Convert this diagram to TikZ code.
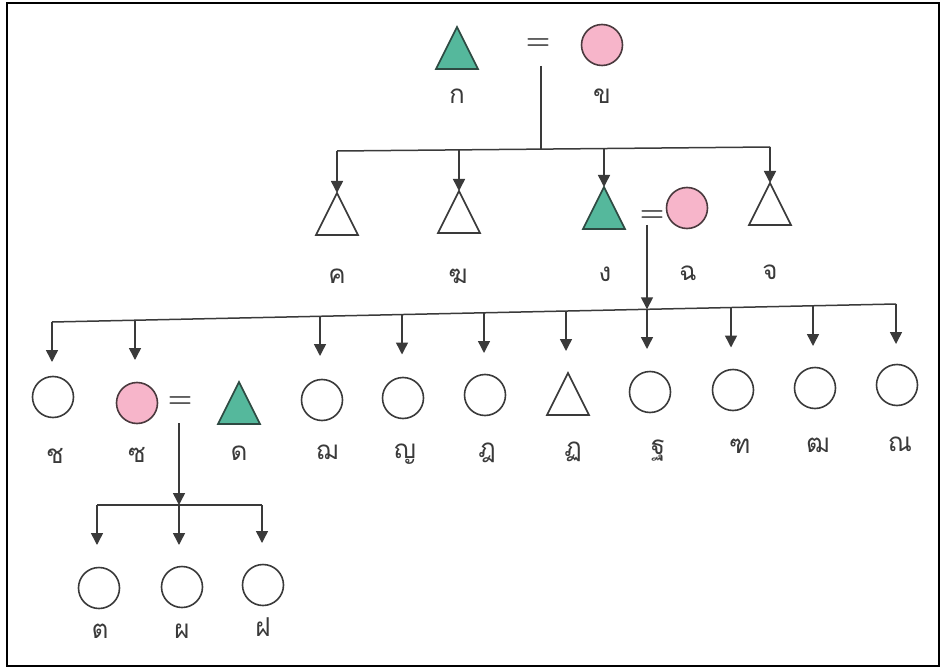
\documentclass[tikz,border=0pt]{standalone}
\usepackage{fontspec}
\newfontfamily\thaifont[Script=Thai]{Loma}
\usetikzlibrary{arrows.meta}
\definecolor{lineg}{HTML}{3A3A3A}
\definecolor{kingreen}{HTML}{55B89C}
\definecolor{kinpink}{HTML}{F7B5CA}
\definecolor{pinkedge}{HTML}{4A3A3E}
\definecolor{greenedge}{HTML}{2E4A42}
\newcommand\kintri[4]{%
  \coordinate (#1) at (#2,#3);
  \draw[#4] (#2,#3) -- ++(21,42) -- ++(-42,0) -- cycle;}
\begin{document}
\begin{tikzpicture}[x=1pt,y=-1pt,
  conn/.style={draw=lineg,line width=1.5pt},
  arr/.style={conn,-{Triangle[width=12pt,length=12pt]}},
  circ/.style={circle,draw=lineg,line width=1.6pt,minimum size=41pt,inner sep=0pt},
  female/.style={circ,fill=kinpink,draw=pinkedge},
  maleopen/.style={draw=lineg,line width=1.6pt,line join=miter},
  malefill/.style={draw=greenedge,fill=kingreen,line width=1.6pt,line join=miter},
  lab/.style={font=\thaifont\fontsize{26}{30}\selectfont,anchor=base,inner sep=0pt,text=lineg},
  eqs/.style={font=\bfseries\fontsize{28}{28}\selectfont,inner sep=0pt,text=lineg},
]
\useasboundingbox (0,0) rectangle (941,668);
\fill[white] (0,0) rectangle (941,668);
\draw[line width=2pt,black] (7,3) rectangle (939,666);

% generation 1
\kintri{ka}{457}{27}{malefill}
\node[female] (kho) at (602,45) {};
\node[eqs] (e1) at (538,44) {=};
\node[lab] (lka) at (457,104) {ก};
\node[lab] (lkho) at (602,104) {ข};

\coordinate (v1t) at (541,66);
\coordinate (h1m) at (541,149);
\coordinate (h1a) at (337,151);
\coordinate (h1b) at (459,150);
\coordinate (h1c) at (604,149);
\coordinate (h1d) at (770,147);
\draw[conn] (v1t) -- (h1m);
\draw[conn] (h1a) -- (h1d);

% generation 2
\kintri{kho2}{337}{193}{maleopen}
\kintri{khong}{459}{191}{maleopen}
\kintri{ngo}{604}{187}{malefill}
\kintri{cho}{770}{183}{maleopen}
\node[eqs] (e2) at (652,216) {=};
\node[female] (chi) at (687,208) {};
\draw[arr] (h1a) -- (kho2);
\draw[arr] (h1b) -- (khong);
\draw[arr] (h1c) -- (ngo);
\draw[arr] (h1d) -- (cho);
\node[lab] (lkho2) at (337,283) {ค};
\node[lab] (lkhong) at (458,283) {ฆ};
\node[lab] (lngo) at (605,281) {ง};
\node[lab] (lchi) at (688,280) {ฉ};
\node[lab] (lcho) at (770,279) {จ};

% line to generation 3
\coordinate (v2t) at (647,225);
\coordinate (h2a) at (52,322);
\coordinate (h2b) at (135,320.2);
\coordinate (h2c) at (320,316.3);
\coordinate (h2d) at (402,314.5);
\coordinate (h2e) at (484,312.8);
\coordinate (h2f) at (566,311);
\coordinate (h2g) at (647,309.3);
\coordinate (h2h) at (731,307.5);
\coordinate (h2i) at (813,305.8);
\coordinate (h2j) at (896,304);
\draw[arr] (v2t) -- (h2g);
\draw[conn] (h2a) -- (h2j);
\coordinate (t2a) at (52,362);
\coordinate (t2b) at (135,360);
\coordinate (t2c) at (320,356);
\coordinate (t2d) at (402,354.5);
\coordinate (t2e) at (484,353);
\coordinate (t2f) at (566,351);
\coordinate (t2g) at (647,349);
\coordinate (t2h) at (731,347.5);
\coordinate (t2i) at (813,346);
\coordinate (t2j) at (896,344);
\draw[arr] (h2a) -- (t2a);
\draw[arr] (h2b) -- (t2b);
\draw[arr] (h2c) -- (t2c);
\draw[arr] (h2d) -- (t2d);
\draw[arr] (h2e) -- (t2e);
\draw[arr] (h2f) -- (t2f);
\draw[arr] (h2g) -- (t2g);
\draw[arr] (h2h) -- (t2h);
\draw[arr] (h2i) -- (t2i);
\draw[arr] (h2j) -- (t2j);

% generation 3
\node[circ] (cha) at (53,397) {};
\node[female] (so) at (137,403) {};
\node[eqs] (e3) at (180,402) {=};
\kintri{do}{239}{382}{malefill}
\node[circ] (cho2) at (322,400) {};
\node[circ] (yo) at (403,398) {};
\node[circ] (dcha) at (485,395) {};
\kintri{tpa}{568}{373}{maleopen}
\node[circ] (tha) at (650,392) {};
\node[circ] (tho) at (733,390) {};
\node[circ] (pthao) at (815,388) {};
\node[circ] (no) at (897,385) {};
\node[lab] (lcha) at (55,463) {ช};
\node[lab] (lso) at (137,462) {ซ};
\node[lab] (ldo) at (239,460) {ด};
\node[lab] (lcho2) at (327,459) {ฌ};
\node[lab] (lyo) at (405,458) {ญ};
\node[lab] (ldcha) at (487,457) {ฎ};
\node[lab] (ltpa) at (573,456) {ฏ};
\node[lab] (ltha) at (658,454) {ฐ};
\node[lab] (ltho) at (740,453) {ฑ};
\node[lab] (lpthao) at (818,452) {ฒ};
\node[lab] (lno) at (900,451) {ณ};

% line to generation 4
\coordinate (v3t) at (179,423);
\coordinate (h3a) at (97,505);
\coordinate (h3b) at (179,505);
\coordinate (h3c) at (262,505);
\draw[arr] (v3t) -- (h3b);
\draw[conn] (h3a) -- (h3c);
\coordinate (t3a) at (97,545);
\coordinate (t3b) at (179,545);
\coordinate (t3c) at (262,543);
\draw[arr] (h3a) -- (t3a);
\draw[arr] (h3b) -- (t3b);
\draw[arr] (h3c) -- (t3c);

% generation 4
\node[circ] (to) at (99,588) {};
\node[circ] (pho) at (182,587) {};
\node[circ] (fo) at (263,585) {};
\node[lab] (lto) at (100,638) {ต};
\node[lab] (lpho) at (182,638) {ผ};
\node[lab] (lfo) at (263,636) {ฝ};
\end{tikzpicture}
\end{document}
